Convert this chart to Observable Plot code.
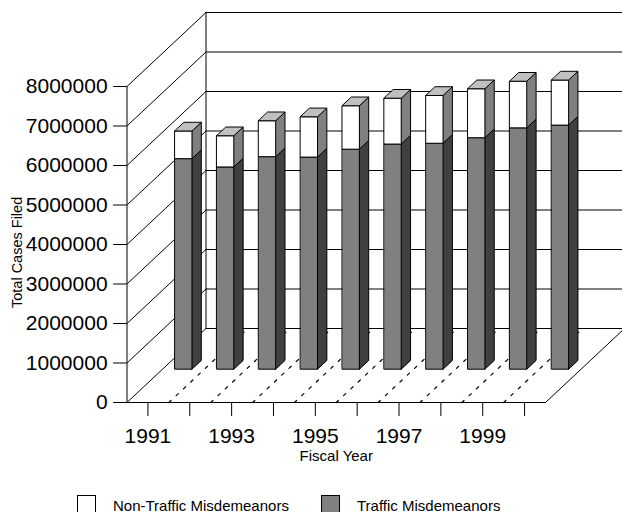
<!DOCTYPE html>
<html>
<head>
<meta charset="utf-8">
<script src="https://cdn.jsdelivr.net/npm/d3@7"></script>
<script src="https://cdn.jsdelivr.net/npm/@observablehq/plot@0.6"></script>
<style>
html,body{margin:0;padding:0;background:#fff;overflow:hidden;width:622px;height:512px;}
#chart svg{display:block;}
#legend{position:absolute;left:0;top:0;width:622px;height:512px;font:15px/12px "Liberation Sans",Arial,sans-serif;color:#000;pointer-events:none;overflow:hidden;}
#legend span{position:absolute;white-space:nowrap;}
#legend i{position:absolute;box-sizing:border-box;width:19px;height:19px;border:1px solid #000;}
</style>
</head>
<body>
<div id="chart"></div>
<div id="legend"></div>
<script>
const years = [1991,1992,1993,1994,1995,1996,1997,1998,1999,2000];
const traffic = [5330000,5120000,5380000,5370000,5570000,5700000,5720000,5860000,6110000,6180000];
const nonTraffic = [700000,790000,910000,1020000,1100000,1160000,1210000,1240000,1180000,1140000];
const yTicks = [0,1000000,2000000,3000000,4000000,5000000,6000000,7000000,8000000];
const seriesNames = ["Non-Traffic Misdemeanors","Traffic Misdemeanors"];
const faceColors = {frontTraffic:"#808080",sideTraffic:"#404040",frontOther:"#ffffff",sideOther:"#808080",top:"#c0c0c0"};

// Oblique projection, in data units
const pxPerYear = 41.85, pxPerValue = 39.5/1e6;
const depthX = 79/pxPerYear, depthY = 74/pxPerValue;
const x0 = years[0]-0.5, xFloorEnd = x0+years.length, xEnd = x0+495.5/pxPerYear;
const barHalf = 8.5/pxPerYear, barDepth = 0.118; // bar depth as a share of the floor depth
const barFront = 0.45, barBack = barFront+barDepth;
const X = (yr,d)=>yr+d*depthX, Y = (v,d)=>v+d*depthY;

function poly(list,id,pts,color){pts.forEach(p=>list.push({id,x:p[0],y:p[1],color}));}
const sides=[],tops=[],fronts=[];
years.forEach((yr,i)=>{
  const a=yr-barHalf,b=yr+barHalf,t=traffic[i],u=t+nonTraffic[i];
  const box=(lo,hi,fc,sc,n)=>{
    poly(fronts,n+yr,[[X(a,barFront),Y(lo,barFront)],[X(b,barFront),Y(lo,barFront)],[X(b,barFront),Y(hi,barFront)],[X(a,barFront),Y(hi,barFront)]],fc);
    poly(sides,n+yr,[[X(b,barFront),Y(lo,barFront)],[X(b,barBack),Y(lo,barBack)],[X(b,barBack),Y(hi,barBack)],[X(b,barFront),Y(hi,barFront)]],sc);
  };
  box(0,t,faceColors.frontTraffic,faceColors.sideTraffic,"t");
  box(t,u,faceColors.frontOther,faceColors.sideOther,"n");
  poly(tops,"c"+yr,[[X(a,barFront),Y(u,barFront)],[X(b,barFront),Y(u,barFront)],[X(b,barBack),Y(u,barBack)],[X(a,barBack),Y(u,barBack)]],faceColors.top);
});

const wallDiagonals = yTicks.flatMap(v=>[{id:v,x:x0,y:v},{id:v,x:X(x0,1),y:Y(v,1)}]);
const backLines = yTicks.flatMap(v=>[{id:v,x:X(x0,1),y:Y(v,1)},{id:v,x:xEnd,y:Y(v,1)}]);
const floorDash = years.slice(1).flatMap(yr=>[{id:yr,x:yr-0.5,y:0},{id:yr,x:X(yr-0.5,1),y:Y(0,1)}]);
const outline = (x1,y1,x2,y2,id)=>[{id,x:x1,y:y1},{id,x:x2,y:y2}];
const frameLines = [
  ...outline(x0,0,x0,yTicks[8],"axis"),
  ...outline(X(x0,1),Y(0,1),X(x0,1),Y(yTicks[8],1),"back"),
  ...outline(x0,0,xFloorEnd,0,"front"),
  ...outline(xFloorEnd,0,X(xFloorEnd,1),Y(0,1),"right")
];
const ln = (d,o={})=>Plot.line(d,{x:"x",y:"y",z:"id",stroke:"#000",strokeWidth:1,...o});
const faces = d=>Plot.line(d,{x:"x",y:"y",z:"id",fill:"color",stroke:"#000",strokeWidth:1,curve:"linear-closed",strokeLinejoin:"miter"});

const svgH = 490, plotTop = 11.5, bottomY = 402;
const chart = Plot.plot({
  width:622,height:svgH,
  marginLeft:126.5,marginRight:0,marginTop:plotTop,marginBottom:svgH-bottomY,
  style:{fontFamily:'"Liberation Sans",Arial,sans-serif',background:"#fff",color:"#000"},
  x:{type:"linear",domain:[x0,xEnd]},
  y:{type:"linear",domain:[0,(bottomY-plotTop)/pxPerValue]},
  color:{type:"identity"},
  marks:[
    ln(backLines),
    ln(wallDiagonals),
    ln(frameLines),
    ln(floorDash,{strokeDasharray:"3 7",strokeWidth:1.2}),
    faces(sides),faces(fronts),faces(tops),
    Plot.axisY({ticks:yTicks,tickSize:13.4,tickPadding:6,tickFormat:d=>String(d),fontSize:21,label:null,anchor:"left",strokeWidth:1}),
    Plot.axisX({ticks:years,tickSize:14,tickPadding:12,tickFormat:d=>d%2?String(d):"",fontSize:21,label:null,anchor:"bottom",strokeWidth:1}),
    Plot.text(["Fiscal Year"],{x:()=>(x0+xFloorEnd)/2,y:()=>0,dy:54,fontSize:15}),
    Plot.text(["Total Cases Filed"],{x:()=>x0,y:()=>3800000,dx:-110,rotate:-90,fontSize:14.5})
  ]
});
document.getElementById("chart").append(chart);
const leg=document.getElementById("legend");
leg.innerHTML=`<i style="left:77px;top:495px;background:#fff"></i><span style="left:113px;top:499.5px">${seriesNames[0]}</span><i style="left:321px;top:495px;background:#808080"></i><span style="left:357px;top:499.5px">${seriesNames[1]}</span>`;
</script>
</body>
</html>
